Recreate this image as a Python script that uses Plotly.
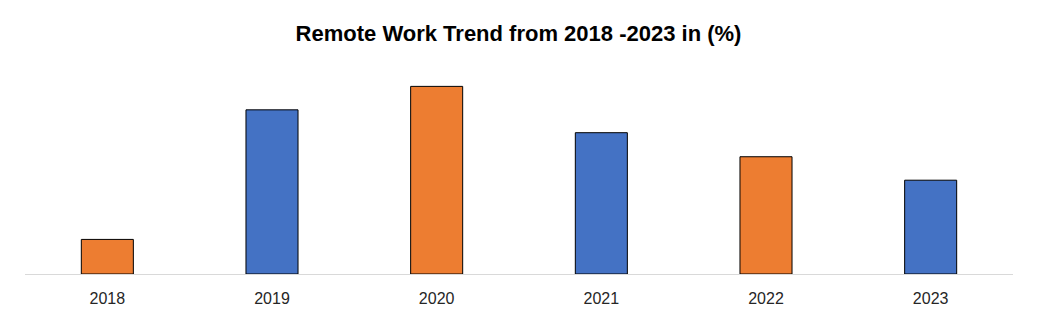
import plotly.graph_objects as go

years = ["2018", "2019", "2020", "2021", "2022", "2023"]
values = [5.9, 28, 32, 24.1, 20, 16]
colors = ["#ED7D31", "#4472C4", "#ED7D31", "#4472C4", "#ED7D31", "#4472C4"]

fig = go.Figure(go.Bar(
    x=years, y=values,
    marker=dict(color=colors, line=dict(color="#000000", width=1)),
    hoverinfo="x+y",
))

fig.update_layout(
    width=1037, height=309,
    margin=dict(l=25, r=24, t=60, b=35),
    paper_bgcolor="white", plot_bgcolor="white",
    bargap=0.684,
    title=dict(
        text="<b>Remote Work Trend from 2018 -2023 in (%)</b>",
        x=0.5, xanchor="center", y=1 - 33 / 309, yanchor="middle",
        font=dict(family="Liberation Sans, Arial, sans-serif", size=22, color="#000000"),
    ),
    xaxis=dict(
        type="category", automargin=False,
        showline=True, linecolor="#D9D9D9", linewidth=1,
        ticks="", showgrid=False, ticklabelstandoff=10,
        tickfont=dict(family="Liberation Sans, Arial, sans-serif", size=16, color="#262626"),
    ),
    yaxis=dict(
        range=[0, 36.5], visible=False, showgrid=False, zeroline=False,
    ),
    showlegend=False,
)

fig.write_html("out.html")
